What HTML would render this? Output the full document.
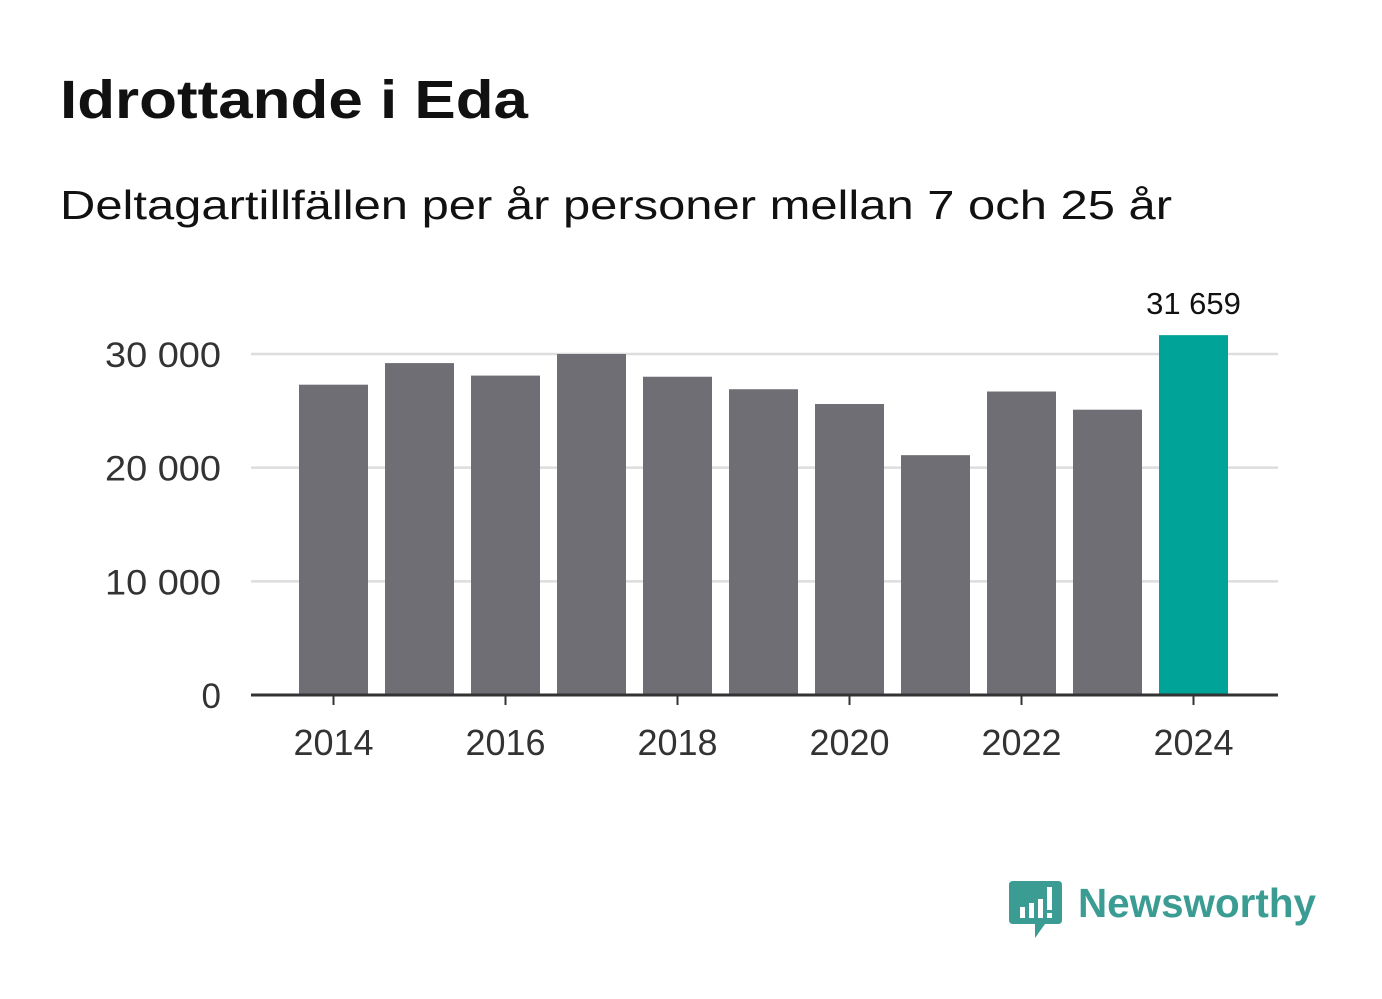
<!DOCTYPE html>
<html><head><meta charset="utf-8"><style>
html,body{margin:0;padding:0;background:#fff;width:1382px;height:999px;overflow:hidden}
svg{display:block;font-family:"Liberation Sans",sans-serif}
</style></head><body>
<svg width="1382" height="999">
<text x="60" y="118" font-size="54" font-weight="bold" fill="#111" textLength="468" lengthAdjust="spacingAndGlyphs">Idrottande i Eda</text>
<text x="60" y="219" font-size="41" fill="#111" textLength="1112" lengthAdjust="spacingAndGlyphs">Deltagartillfällen per år personer mellan 7 och 25 år</text>
<g id="grid"></g><g id="bars"></g><g id="axis"></g>
<g>
<path d="M1013 881 h45 q4 0 4 4 v35 q0 4 -4 4 h-13 l-10 14 v-14 h-22 q-4 0 -4 -4 v-35 q0 -4 4 -4z" fill="#3a9c92"/>
<rect x="1020" y="907" width="5" height="11" fill="#fff"/><rect x="1029" y="903" width="5" height="15" fill="#fff"/><rect x="1038" y="899" width="5" height="19" fill="#fff"/><rect x="1047" y="887" width="5" height="23" fill="#fff"/><rect x="1047" y="913" width="5" height="5" fill="#fff"/>
<text x="1078" y="917" font-size="41" font-weight="bold" fill="#3a9c92" textLength="238" lengthAdjust="spacingAndGlyphs">Newsworthy</text>
</g>
</svg>
<script>
const years=[2014,2015,2016,2017,2018,2019,2020,2021,2022,2023,2024];
const values=[27300,29200,28100,30000,28000,26900,25600,21100,26700,25100,31659];
const yTicks=[0,10000,20000,30000];
const yTickLabels=["0","10 000","20 000","30 000"];
const xTickYears=[2014,2016,2018,2020,2022,2024];
const NS="http://www.w3.org/2000/svg";
const y=v=>695-v*341/30000;
const x=yr=>333.5+(yr-2014)*86;
function mk(t,a,p){const e=document.createElementNS(NS,t);for(const k in a)e.setAttribute(k,a[k]);p.appendChild(e);return e;}
const grid=document.getElementById('grid'),bars=document.getElementById('bars'),axis=document.getElementById('axis');
yTicks.forEach((v,i)=>{
 if(v>0){const l=mk('line',{x1:251,x2:1278,y1:y(v),y2:y(v),stroke:'#ddd','stroke-width':2.5},grid);
 
 }
 const a={x:221,y:y(v)+13,'font-size':35,fill:'#333','text-anchor':'end'};
 if(v>0){a.textLength=116;a.lengthAdjust='spacingAndGlyphs';}
 const t=mk('text',a,grid);t.textContent=yTickLabels[i];
 
 
});
years.forEach((yr,i)=>{
 const last=i===years.length-1;
 const r=mk('rect',{x:x(yr)-34.5,y:y(values[i]),width:69,height:695-y(values[i]),fill:last?'#00a398':'#6f6e74'},bars);
 
 
 if(last){const t=mk('text',{x:x(yr),y:y(values[i])-21,'font-size':31,fill:'#111','text-anchor':'middle'},bars);
 t.textContent=values[i].toLocaleString('sv-SE').replace(/\s/g,' ');
 
 }
});
const al=mk('line',{x1:251,x2:1278,y1:695,y2:695,stroke:'#333','stroke-width':3},axis);


xTickYears.forEach(yr=>{
 mk('line',{x1:x(yr),x2:x(yr),y1:695,y2:705,stroke:'#333','stroke-width':2},axis);
 const t=mk('text',{x:x(yr),y:755,'font-size':36,fill:'#333','text-anchor':'middle'},axis);t.textContent=yr;
 
 
});
</script>
</body></html>
